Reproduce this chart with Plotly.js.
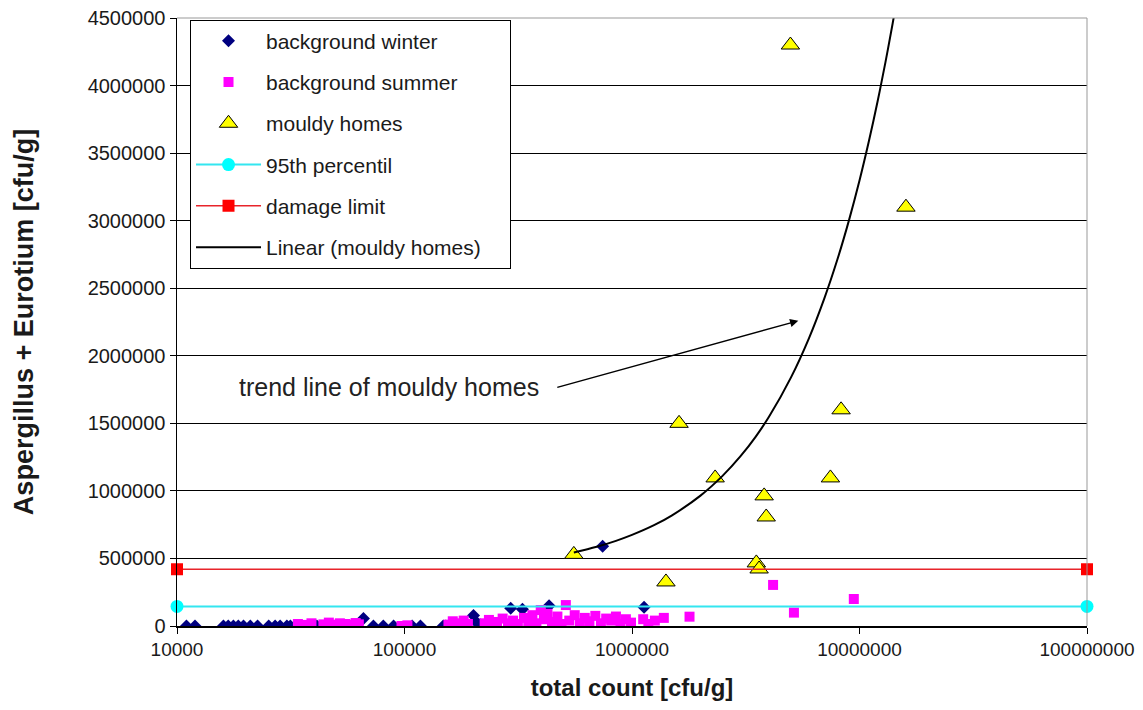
<!DOCTYPE html>
<html>
<head>
<meta charset="utf-8">
<script src="https://cdn.plot.ly/plotly-3.0.1.min.js"></script>
<style>html,body{margin:0;padding:0;background:#fff;}#chart{width:1143px;height:710px;}</style>
</head>
<body>
<div id="chart"></div>
<script>
// ---- data ----
const winterX = [11000,12000,16000,16800,17700,18600,19600,21000,22600,25300,27000,28400,30400,31500,41200,59600,66000,73000,80700,89500,108000,117500,148000,152000,201000,205000,215000,293000,330000,432000,743000,1130000];
const winterY = [0,0,0,0,0,0,0,0,0,0,0,0,0,0,0,0,55000,0,0,0,0,0,0,0,78000,35000,10000,131000,124000,150000,590000,139000];

const summerX = [34000,36500,39000,44000,46500,49000,52000,55000,58000,61000,63000,97000,103000,156000,163000,172000,182000,190000,225000,235000,245000,255000,270000,285000,300000,315000,335000,350000,365000,380000,397000,410000,425000,445000,470000,490000,512000,530000,560000,590000,620000,650000,690000,730000,770000,810000,850000,890000,940000,990000,1120000,1180000,1260000,1380000,1790000,4170000,5150000,9440000];
const summerY = [15000,8000,20000,12000,25000,10000,20000,15000,8000,22000,12000,0,5000,10000,35000,20000,40000,15000,20000,45000,10000,30000,55000,20000,40000,15000,60000,30000,80000,20000,118000,50000,90000,30000,70000,15000,155000,40000,80000,20000,60000,35000,75000,20000,55000,40000,70000,15000,50000,25000,50000,15000,40000,60000,69000,304000,99000,200000];

const mouldyX = [555000,1410000,1610000,2320000,3520000,3620000,3810000,3890000,4970000,7450000,8300000,16000000];
const mouldyY = [530000,326000,1500000,1096000,467000,422000,963000,807000,4300000,1096000,1600000,3100000];

const limitX = [10000,100000000];
const pct95Y = [145000,145000];
const damageY = [420000,420000];

const trendX = [555000,700000,850000,1000000,1250000,1500000,2000000,2500000,3000000,3500000,4000000,5000000,6000000,7000000,8000000,9000000,10000000,11000000,12000000,13000000,14000000,14500000];
const trendY = [544000,586000,630000,674000,746000,819000,965000,1111000,1257000,1402000,1548000,1840000,2131000,2423000,2714000,3006000,3297000,3589000,3880000,4172000,4463000,4609000];

const xTickVals = [10000,100000,1000000,10000000,100000000];
const xTickText = ['10000','100000','1000000','10000000','100000000'];

const FONT = 'Liberation Sans, Arial, sans-serif';
const PAD = '\u00a0\u00a0\u00a0\u00a0';

const traces = [
  {name:'background winter', x:winterX, y:winterY, type:'scatter', mode:'markers', legendgroup:'a',
   marker:{symbol:'diamond', size:10, color:'#000080'}},
  {name:'background summer', x:summerX, y:summerY, type:'scatter', mode:'markers', legendgroup:'b',
   marker:{symbol:'square', size:10, color:'#ff00ff'}},
  {name:'mouldy homes', x:mouldyX, y:mouldyY, type:'scatter', mode:'markers', legendgroup:'c',
   marker:{symbol:'triangle-up', size:16, color:'#ffff00', line:{color:'#000', width:1}}},
  {name:'95th percentil', x:limitX, y:pct95Y, type:'scatter', mode:'lines+markers', legendgroup:'d', cliponaxis:false,
   line:{color:'#33e6f0', width:2}, marker:{symbol:'circle', size:13, color:'#00ffff'}},
  {name:'damage limit', x:limitX, y:damageY, type:'scatter', mode:'lines+markers', legendgroup:'e', cliponaxis:false,
   line:{color:'#e8242b', width:1.5}, marker:{symbol:'square', size:12, color:'#ff0000'}},
  {name:'Linear (mouldy homes)' + PAD, x:trendX, y:trendY, type:'scatter', mode:'lines', legendgroup:'f',
   line:{color:'#000', width:2, shape:'spline'}}
];

const layout = {
  width:1143, height:710,
  margin:{l:177, r:56, t:18, b:84},
  paper_bgcolor:'#fff', plot_bgcolor:'#fff',
  font:{family:FONT, color:'#1a1a1a', size:19},
  showlegend:true,
  legend:{x:0.0143, y:0.9975, xanchor:'left', yanchor:'top', bgcolor:'#fff',
          bordercolor:'#000', borderwidth:1, font:{size:21, family:FONT, color:'#1a1a1a'},
          tracegroupgap:11, itemwidth:65},
  xaxis:{type:'log', range:[4,8], tickvals:xTickVals, ticktext:xTickText,
         showgrid:false, zeroline:false, showline:true, linecolor:'#000', linewidth:1.5,
         ticks:'outside', ticklen:6, tickcolor:'#000', tickfont:{size:19},
         title:{text:'<b>total count [cfu/g]</b>', font:{size:24}, standoff:20}},
  yaxis:{range:[0,4500000], dtick:500000, tickformat:'d',
         showgrid:true, gridcolor:'#000', gridwidth:1, zeroline:false,
         showline:true, linecolor:'#000', linewidth:1.5,
         ticks:'outside', ticklen:6, tickcolor:'#000', tickfont:{size:20},
         title:{text:'<b>Aspergillus + Eurotium [cfu/g]</b>', font:{size:27}, standoff:46}},
  shapes:[
    {type:'line', xref:'paper', yref:'paper', x0:0, x1:1, y0:1, y1:1, line:{color:'#999', width:1}},
    {type:'line', xref:'paper', yref:'paper', x0:1, x1:1, y0:0, y1:1, line:{color:'#999', width:1}}
  ],
  annotations:[
    {text:'trend line of mouldy homes', x:4.9317, y:1770000, xref:'x', yref:'y',
     showarrow:false, xanchor:'center', yanchor:'middle', font:{size:25, family:FONT, color:'#222'}},
    {text:'', x:6.731, y:2259000, ax:5.665, ay:1763000, xref:'x', yref:'y', axref:'x', ayref:'y',
     showarrow:true, arrowhead:2, arrowsize:1.1, arrowwidth:1.5, arrowcolor:'#000'}
  ]
};

Plotly.newPlot('chart', traces, layout, {displayModeBar:false, staticPlot:true});
</script>
</body>
</html>
